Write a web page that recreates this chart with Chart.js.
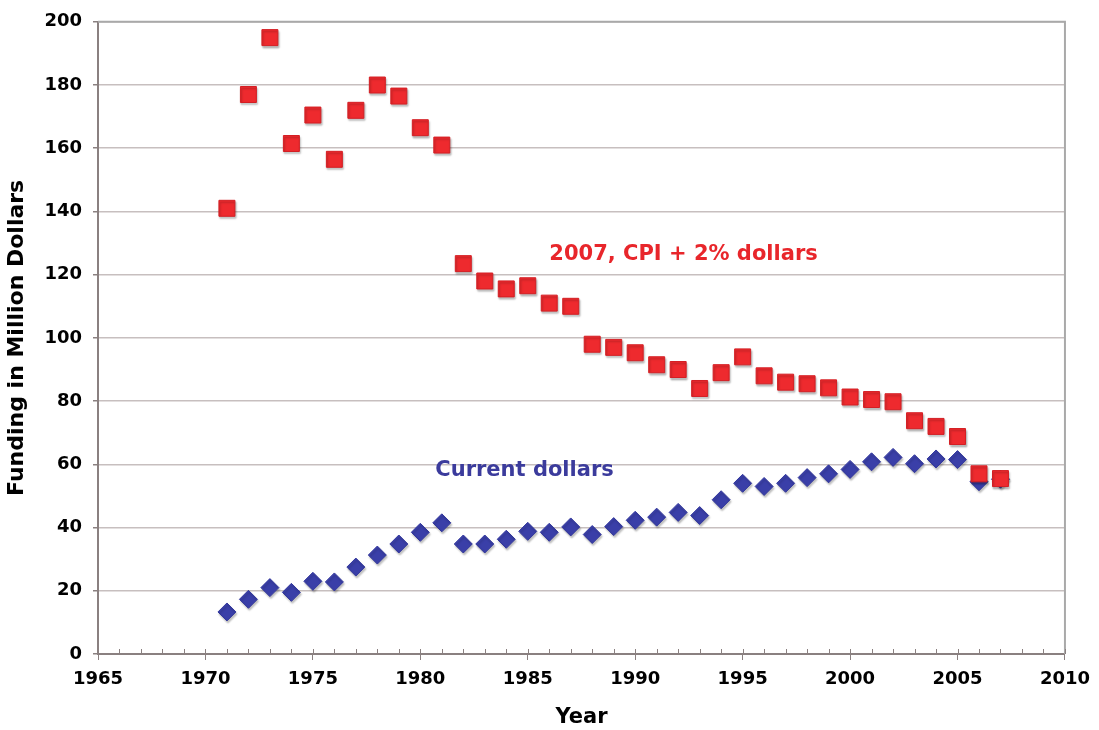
<!DOCTYPE html>
<html>
<head>
<meta charset="utf-8">
<script src="https://cdn.jsdelivr.net/npm/chart.js@4.4.0/dist/chart.umd.min.js"></script>
<style>
  html, body { margin: 0; padding: 0; background: #fff; }
  #wrap { width: 1099px; height: 730px; }
</style>
</head>
<body>
<div id="wrap"><canvas id="fundChart" width="1099" height="730"></canvas></div>
<script>
// years 1971 - 2007
const years = [1971, 1972, 1973, 1974, 1975, 1976, 1977, 1978, 1979, 1980,
  1981, 1982, 1983, 1984, 1985, 1986, 1987, 1988, 1989, 1990,
  1991, 1992, 1993, 1994, 1995, 1996, 1997, 1998, 1999, 2000,
  2001, 2002, 2003, 2004, 2005, 2006, 2007];

// 2007, CPI + 2% dollars (red squares)
const cpiDollars = [141, 177, 195, 161.5, 170.5, 156.5, 172, 180, 176.5, 166.5,
  161, 123.5, 118, 115.5, 116.5, 111, 110, 98, 97, 95.3,
  91.5, 90, 84, 89, 94, 88, 86, 85.5, 84.2, 81.3,
  80.5, 79.8, 73.8, 72, 68.8, 57, 55.5];

// current dollars (blue diamonds)
const currentDollars = [13.3, 17.3, 21, 19.5, 23, 22.8, 27.5, 31.3, 34.8, 38.5,
  41.5, 34.8, 34.8, 36.3, 38.8, 38.5, 40.2, 37.8, 40.3, 42.3,
  43.3, 44.8, 43.8, 48.8, 54, 53, 54, 55.8, 57, 58.4,
  60.8, 62.2, 60.2, 61.7, 61.5, 54.5, 55.3];

// in-chart labels: text, x (year), y (value)
const noteTexts = ['2007, CPI + 2% dollars', 'Current dollars'];
const noteX = [1992.25, 1984.85];
const noteY = [126.5, 58];
const noteColors = ['#e8262b', '#3b3b9c'];

const fontFam = "'DejaVu Sans', Verdana, sans-serif";

function toPoints(vals) {
  return years.map((y, i) => ({ x: y, y: vals[i] }));
}

// soft shadow under markers
const markerShadow = {
  id: 'markerShadow',
  beforeDatasetsDraw(chart) {
    const c = chart.ctx;
    c.save();
    c.shadowColor = 'rgba(0,0,0,0.25)';
    c.shadowBlur = 2;
    c.shadowOffsetX = 1;
    c.shadowOffsetY = 2;
  },
  afterDatasetsDraw(chart) {
    chart.ctx.restore();
  }
};

// frame, inner year ticks, and the two notes
const frameAndNotes = {
  id: 'frameAndNotes',
  beforeDatasetsDraw(chart) {
    const c = chart.ctx, a = chart.chartArea, xs = chart.scales.x;
    c.save();
    c.strokeStyle = '#a9a9a9';
    c.lineWidth = 2;
    c.beginPath();
    c.moveTo(a.left, a.top);
    c.lineTo(a.right, a.top);
    c.lineTo(a.right, a.bottom);
    c.stroke();
    // short ticks pointing into the plot
    c.strokeStyle = '#8a8080';
    c.lineWidth = 1;
    xs.ticks.forEach(t => {
      const px = Math.round(xs.getPixelForValue(t.value)) + 0.5;
      c.beginPath();
      c.moveTo(px, a.bottom);
      c.lineTo(px, a.bottom - 5);
      c.stroke();
    });
    c.restore();
  },
  afterDraw(chart) {
    const c = chart.ctx, xs = chart.scales.x, ys = chart.scales.y;
    c.save();
    c.font = 'bold 21px ' + fontFam;
    c.textAlign = 'center';
    c.textBaseline = 'middle';
    noteTexts.forEach((txt, i) => {
      c.fillStyle = noteColors[i];
      c.fillText(txt, xs.getPixelForValue(noteX[i]), ys.getPixelForValue(noteY[i]));
    });
    c.restore();
  }
};

const ctx = document.getElementById('fundChart');
const fundChart = new Chart(ctx, {
  type: 'scatter',
  data: {
    datasets: [
      {
        label: '2007, CPI + 2% dollars',
        data: toPoints(cpiDollars),
        order: 0,
        pointStyle: 'rect',
        pointRadius: 11.3,
        pointHoverRadius: 11.3,
        backgroundColor: '#ee2a2e',
        borderColor: '#d41f24',
        borderWidth: 1
      },
      {
        label: 'Current dollars',
        data: toPoints(currentDollars),
        order: 1,
        pointStyle: 'rectRot',
        pointRadius: 9,
        pointHoverRadius: 9,
        backgroundColor: '#3a3fa8',
        borderColor: '#32379c',
        borderWidth: 1
      }
    ]
  },
  options: {
    responsive: false,
    animation: false,
    layout: {
      padding: { top: 20, right: 33, left: 0, bottom: 0 }
    },
    plugins: {
      legend: { display: false },
      tooltip: { enabled: false },
      title: { display: false }
    },
    scales: {
      x: {
        type: 'linear',
        min: 1965,
        max: 2010,
        afterFit(scale) { scale.height = 76; },
        ticks: {
          stepSize: 1,
          autoSkip: false,
          maxRotation: 0,
          padding: 9,
          color: '#000',
          font: { family: fontFam, size: 18, weight: 'bold' },
          callback: v => (v % 5 === 0 ? String(v) : '')
        },
        grid: {
          drawOnChartArea: false,
          tickLength: 6,
          tickColor: c => (c.tick && c.tick.value % 5 === 0 ? '#8a8080' : 'rgba(0,0,0,0)')
        },
        border: { color: '#8a8080', width: 2 },
        title: {
          display: true,
          text: 'Year',
          color: '#000',
          padding: { top: 0, bottom: 0 },
          font: { family: fontFam, size: 21, weight: 'bold' }
        }
      },
      y: {
        min: 0,
        max: 200,
        afterFit(scale) { scale.width = 98; },
        ticks: {
          stepSize: 20,
          padding: 11,
          color: '#000',
          font: { family: fontFam, size: 18, weight: 'bold' }
        },
        grid: {
          color: '#c7bfbf',
          lineWidth: 1.5,
          tickLength: 5,
          tickColor: '#8a8080'
        },
        border: { color: '#8a8080', width: 2 },
        title: {
          display: true,
          text: 'Funding in Million Dollars',
          color: '#000',
          padding: { top: 4, bottom: 0 },
          font: { family: fontFam, size: 22, weight: 'bold' }
        }
      }
    }
  },
  plugins: [frameAndNotes, markerShadow]
});
</script>
</body>
</html>
